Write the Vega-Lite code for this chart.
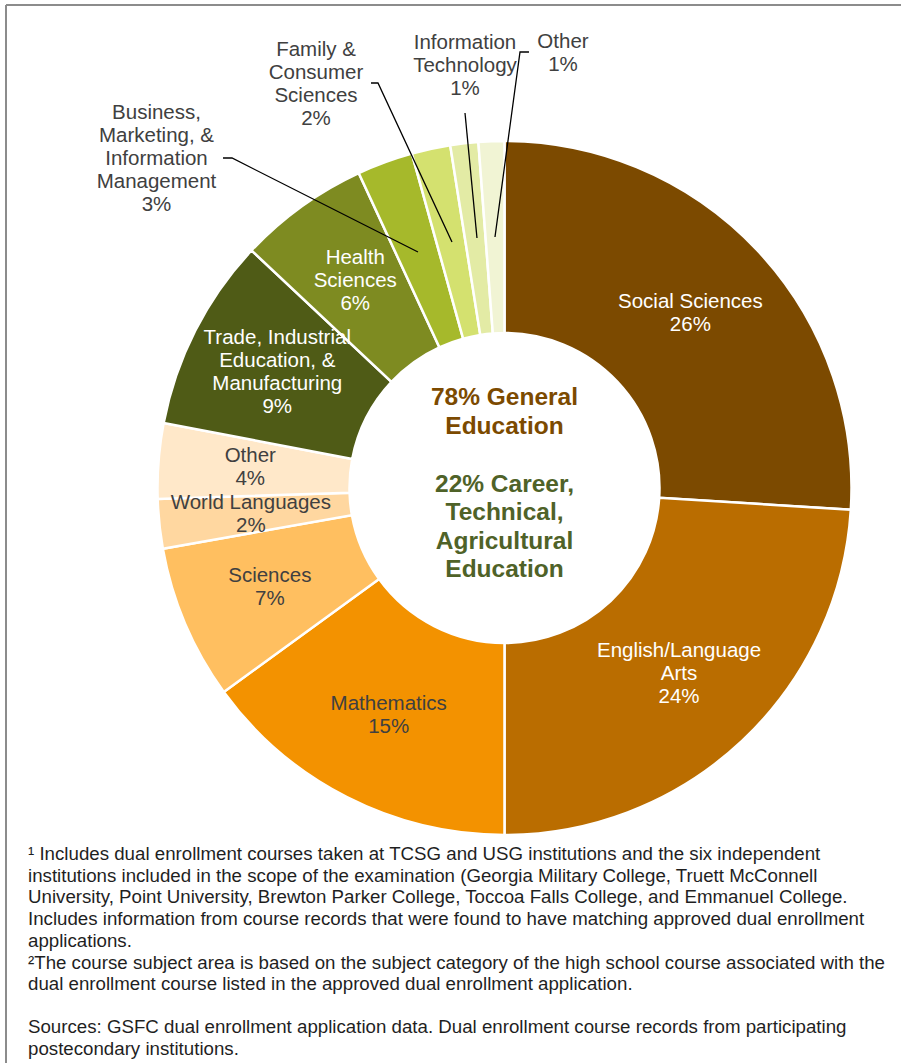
{
  "$schema": "https://vega.github.io/schema/vega-lite/v6.json",
  "width": 895,
  "height": 1058,
  "autosize": {"type": "none"},
  "padding": {"left": 6, "top": 5, "right": 0, "bottom": 0},
  "background": "white",
  "config": {
    "font": "Liberation Sans",
    "view": {"stroke": null}
  },
  "title": {
    "text": [
      "¹ Includes dual enrollment courses taken at TCSG and USG institutions and the six independent",
      "institutions included in the scope of the examination  (Georgia Military College, Truett McConnell",
      "University,  Point University, Brewton Parker College, Toccoa Falls College, and Emmanuel College.",
      "Includes information from course records that were found to have matching approved dual enrollment",
      "applications.",
      "²The course subject area is based on the subject category of the high school course associated with the",
      "dual enrollment course listed in the approved dual enrollment application."
    ],
    "subtitle": [
      "Sources: GSFC dual enrollment application data.  Dual enrollment course records from participating",
      "postecondary institutions."
    ],
    "orient": "bottom",
    "anchor": "start",
    "frame": "group",
    "offset": -219,
    "dx": 22,
    "font": "Liberation Sans",
    "fontSize": 18.7,
    "fontWeight": "normal",
    "color": "#1f1f1f",
    "lineHeight": 21.7,
    "subtitleFont": "Liberation Sans",
    "subtitleFontSize": 18.7,
    "subtitleColor": "#1f1f1f",
    "subtitleLineHeight": 21.7,
    "subtitlePadding": 24
  },
  "datasets": {
    "subjects": [
      {"idx": 1, "subject": "Social Sciences", "label": ["Social Sciences", "26%"], "pct": 26.0},
      {"idx": 2, "subject": "English/Language Arts", "label": ["English/Language", "Arts", "24%"], "pct": 24.0},
      {"idx": 3, "subject": "Mathematics", "label": ["Mathematics", "15%"], "pct": 15.0},
      {"idx": 4, "subject": "Sciences", "label": ["Sciences", "7%"], "pct": 7.2},
      {"idx": 5, "subject": "World Languages", "label": ["World Languages", "2%"], "pct": 2.3},
      {"idx": 6, "subject": "Other (General Education)", "label": ["Other", "4%"], "pct": 3.5},
      {"idx": 7, "subject": "Trade, Industrial Education, & Manufacturing", "label": ["Trade, Industrial", "Education, &", "Manufacturing", "9%"], "pct": 9.0},
      {"idx": 8, "subject": "Health Sciences", "label": ["Health", "Sciences", "6%"], "pct": 6.1},
      {"idx": 9, "subject": "Business, Marketing, & Information Management", "label": ["Business,", "Marketing, &", "Information", "Management", "3%"], "pct": 2.6},
      {"idx": 10, "subject": "Family & Consumer Sciences", "label": ["Family &", "Consumer", "Sciences", "2%"], "pct": 1.8},
      {"idx": 11, "subject": "Information Technology", "label": ["Information", "Technology", "1%"], "pct": 1.3},
      {"idx": 12, "subject": "Other (Career, Technical, Agricultural Education)", "label": ["Other", "1%"], "pct": 1.2}
    ],
    "leaders": [
      {"id": "Business", "seq": 1, "x": -0.8112, "y": 0.9510},
      {"id": "Business", "seq": 2, "x": -0.7853, "y": 0.9510},
      {"id": "Business", "seq": 3, "x": -0.2493, "y": 0.6801},
      {"id": "Family", "seq": 1, "x": -0.3847, "y": 1.1671},
      {"id": "Family", "seq": 2, "x": -0.3646, "y": 1.1671},
      {"id": "Family", "seq": 3, "x": -0.1513, "y": 0.7089},
      {"id": "IT", "seq": 1, "x": -0.1138, "y": 1.0807},
      {"id": "IT", "seq": 2, "x": -0.0793, "y": 0.7205},
      {"id": "OtherCTAE", "seq": 1, "x": 0.0706, "y": 1.2565},
      {"id": "OtherCTAE", "seq": 2, "x": 0.0447, "y": 1.2565},
      {"id": "OtherCTAE", "seq": 3, "x": -0.0274, "y": 0.7233}
    ],
    "callouts": [
      {"id": "Business", "x": -1.0029, "y": 1.0807, "label": ["Business,", "Marketing, &", "Information", "Management", "3%"]},
      {"id": "Family", "x": -0.5432, "y": 1.2622, "label": ["Family &", "Consumer", "Sciences", "2%"]},
      {"id": "IT", "x": -0.1138, "y": 1.2824, "label": ["Information", "Technology", "1%"]},
      {"id": "OtherCTAE", "x": 0.1686, "y": 1.2853, "label": ["Other", "1%"]}
    ]
  },
  "layer": [
    {
      "data": {"values": [{}]},
      "mark": {"type": "rule", "color": "#8c8c8c", "strokeWidth": 2},
      "encoding": {"x": {"value": 0}}
    },
    {
      "data": {"values": [{}]},
      "mark": {"type": "rule", "color": "#8c8c8c", "strokeWidth": 2},
      "encoding": {"y": {"value": 0}}
    },
    {
      "data": {"name": "subjects"},
      "mark": {"type": "arc", "radius": 347, "radius2": 155, "stroke": "white", "strokeWidth": 2.5},
      "encoding": {
        "x": {"datum": 0, "type": "quantitative", "scale": {"domain": [-1.4366, 1.1427], "nice": false, "zero": false}, "axis": null},
        "y": {"datum": 0, "type": "quantitative", "scale": {"domain": [-1.6571, 1.3919], "nice": false, "zero": false}, "axis": null},
        "theta": {"field": "pct", "type": "quantitative", "stack": true},
        "order": {"field": "idx", "type": "quantitative"},
        "color": {
          "field": "subject",
          "type": "nominal",
          "legend": null,
          "scale": {
            "domain": ["Social Sciences", "English/Language Arts", "Mathematics", "Sciences", "World Languages", "Other (General Education)", "Trade, Industrial Education, & Manufacturing", "Health Sciences", "Business, Marketing, & Information Management", "Family & Consumer Sciences", "Information Technology", "Other (Career, Technical, Agricultural Education)"],
            "range": ["#7C4A00", "#BA6D00", "#F39200", "#FFBF60", "#FFD7A0", "#FFE8C9", "#4F5B16", "#7E8B21", "#A6B92B", "#D4E16F", "#E3EBA5", "#F1F4D4"]
          }
        }
      }
    },
    {
      "data": {"name": "subjects"},
      "mark": {"type": "text", "radius": 255, "dy": -11.5, "align": "center", "baseline": "middle", "fontSize": 20.5, "lineHeight": 23, "font": "Liberation Sans"},
      "encoding": {
        "x": {"datum": 0, "type": "quantitative", "axis": null},
        "y": {"datum": 0, "type": "quantitative", "axis": null},
        "theta": {"field": "pct", "type": "quantitative", "stack": true},
        "order": {"field": "idx", "type": "quantitative"},
        "text": {"condition": {"test": "indexof([1,3,4,5,6], datum.idx) < 0", "value": ""}, "field": "label", "type": "nominal"},
        "color": {"condition": {"test": "datum.idx <= 2 || datum.idx == 7 || datum.idx == 8", "value": "#FFFFFF"}, "value": "#404040"}
      }
    },
    {
      "data": {"name": "subjects"},
      "mark": {"type": "text", "radius": 255, "dy": -23, "align": "center", "baseline": "middle", "fontSize": 20.5, "lineHeight": 23, "font": "Liberation Sans"},
      "encoding": {
        "x": {"datum": 0, "type": "quantitative", "axis": null},
        "y": {"datum": 0, "type": "quantitative", "axis": null},
        "theta": {"field": "pct", "type": "quantitative", "stack": true},
        "order": {"field": "idx", "type": "quantitative"},
        "text": {"condition": {"test": "indexof([2,8], datum.idx) < 0", "value": ""}, "field": "label", "type": "nominal"},
        "color": {"value": "#FFFFFF"}
      }
    },
    {
      "data": {"name": "subjects"},
      "mark": {"type": "text", "radius": 255, "dy": -34.5, "align": "center", "baseline": "middle", "fontSize": 20.5, "lineHeight": 23, "font": "Liberation Sans"},
      "encoding": {
        "x": {"datum": 0, "type": "quantitative", "axis": null},
        "y": {"datum": 0, "type": "quantitative", "axis": null},
        "theta": {"field": "pct", "type": "quantitative", "stack": true},
        "order": {"field": "idx", "type": "quantitative"},
        "text": {"condition": {"test": "datum.idx != 7", "value": ""}, "field": "label", "type": "nominal"},
        "color": {"value": "#FFFFFF"}
      }
    },
    {
      "data": {"name": "leaders"},
      "mark": {"type": "line", "color": "#000000", "strokeWidth": 1.3},
      "encoding": {
        "x": {"field": "x", "type": "quantitative", "axis": null},
        "y": {"field": "y", "type": "quantitative", "axis": null},
        "detail": {"field": "id", "type": "nominal"},
        "order": {"field": "seq", "type": "quantitative"}
      }
    },
    {
      "data": {"name": "callouts"},
      "mark": {"type": "text", "align": "center", "baseline": "middle", "fontSize": 20.5, "lineHeight": 23, "color": "#404040", "font": "Liberation Sans"},
      "encoding": {
        "x": {"field": "x", "type": "quantitative", "axis": null},
        "y": {"field": "y", "type": "quantitative", "axis": null},
        "text": {"field": "label", "type": "nominal"}
      }
    },
    {
      "data": {"values": [{"text": "78% General\nEducation"}]},
      "mark": {"type": "text", "align": "center", "baseline": "alphabetic", "dy": -83, "fontSize": 24.5, "fontWeight": "bold", "lineHeight": 29, "lineBreak": "\n", "color": "#7C4A00", "font": "Liberation Sans"},
      "encoding": {
        "x": {"datum": 0, "type": "quantitative", "axis": null},
        "y": {"datum": 0, "type": "quantitative", "axis": null},
        "text": {"field": "text", "type": "nominal"}
      }
    },
    {
      "data": {"values": [{"text": "22% Career,\nTechnical,\nAgricultural\nEducation"}]},
      "mark": {"type": "text", "align": "center", "baseline": "alphabetic", "dy": 4, "fontSize": 24.5, "fontWeight": "bold", "lineHeight": 28.3, "lineBreak": "\n", "color": "#4F6228", "font": "Liberation Sans"},
      "encoding": {
        "x": {"datum": 0, "type": "quantitative", "axis": null},
        "y": {"datum": 0, "type": "quantitative", "axis": null},
        "text": {"field": "text", "type": "nominal"}
      }
    }
  ]
}
